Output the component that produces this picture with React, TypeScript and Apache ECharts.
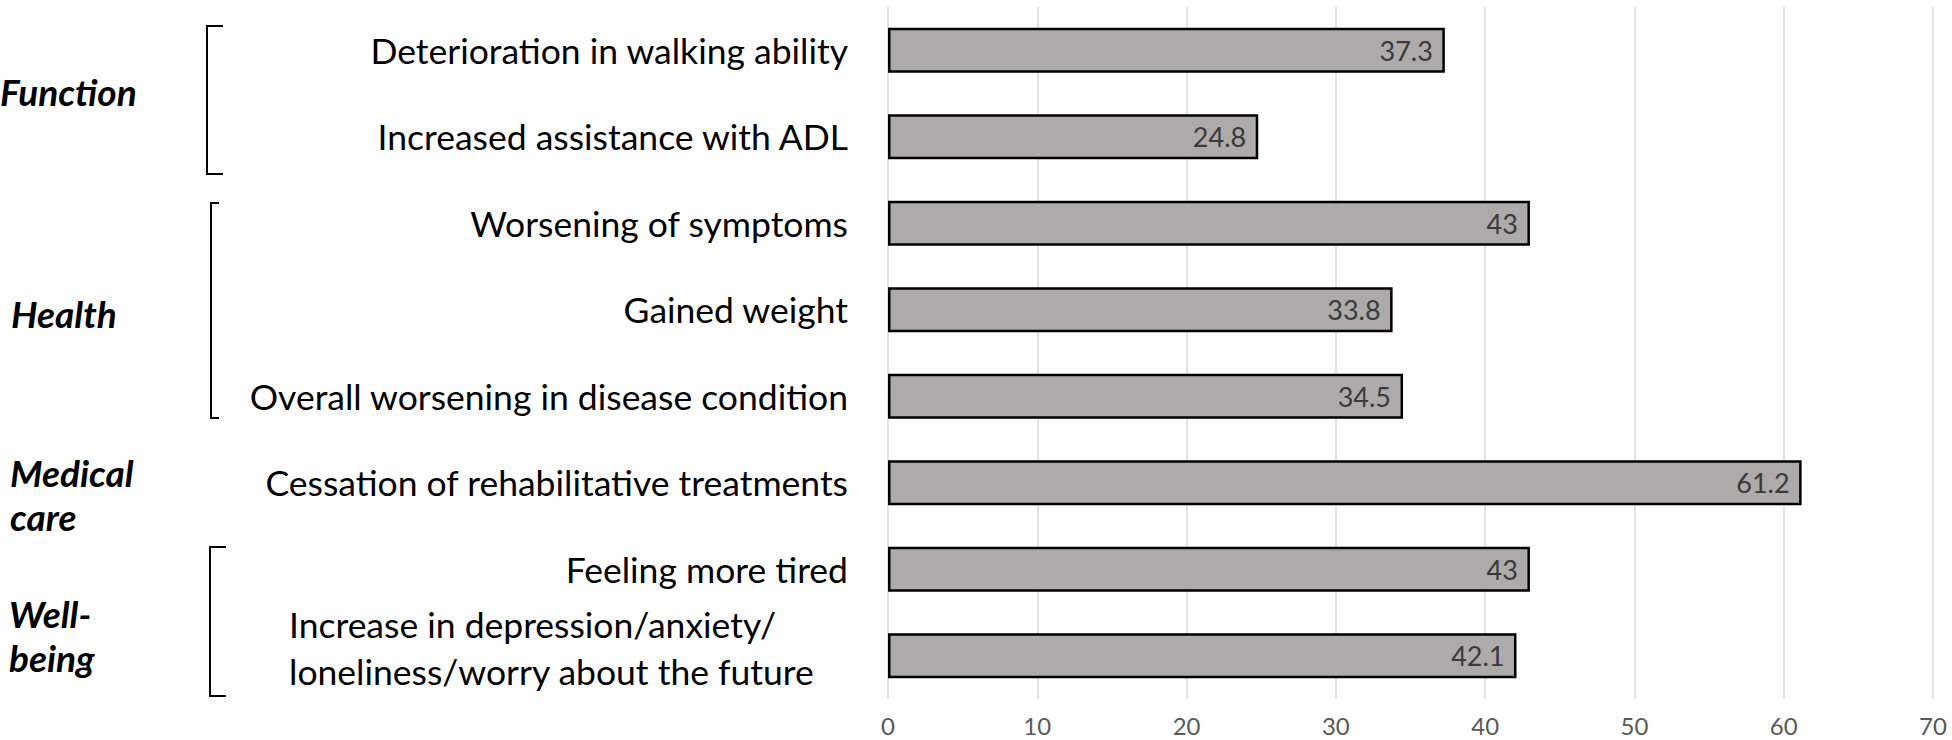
import React, { useEffect, useRef } from "react";
import * as echarts from "echarts";

const categories = [
  "Deterioration in walking ability",
  "Increased assistance with ADL",
  "Worsening of symptoms",
  "Gained weight",
  "Overall worsening in disease condition",
  "Cessation of rehabilitative treatments",
  "Feeling more tired",
  "Increase in depression/anxiety/\nloneliness/worry about the future",
];
const values = [37.3, 24.8, 43, 33.8, 34.5, 61.2, 43, 42.1];
const xTicks = { min: 0, max: 70, interval: 10 };

const groupLabels = [
  { lines: ["Function"], x: 0, y: 91 },
  { lines: ["Health"], x: 11, y: 313 },
  { lines: ["Medical", "care"], x: 10, y: 472 },
  { lines: ["Well-", "being"], x: 9, y: 613 },
];
const brackets = [
  { x: 207, y1: 26, y2: 174, tick: 16 },
  { x: 211, y1: 203, y2: 418, tick: 8 },
  { x: 210, y1: 547, y2: 696, tick: 16 },
];

const FONT = "Lato, 'Noto Sans', sans-serif";

export default function App() {
  const ref = useRef<HTMLDivElement>(null);
  useEffect(() => {
    if (!ref.current) return;
    const chart = echarts.init(ref.current, null, { renderer: "svg" });
    const graphics: any[] = [];
    groupLabels.forEach((g) => {
      g.lines.forEach((line, i) => {
        graphics.push({
          type: "text",
          x: g.x,
          y: g.y + i * 44,
          style: {
            text: line,
            font: `italic bold 37px ${FONT}`,
            fill: "#000",
            align: "left",
            verticalAlign: "middle",
          },
        });
      });
    });
    brackets.forEach((b) => {
      graphics.push({
        type: "polyline",
        shape: {
          points: [
            [b.x + b.tick, b.y1],
            [b.x, b.y1],
            [b.x, b.y2],
            [b.x + b.tick, b.y2],
          ],
        },
        style: { stroke: "#000", lineWidth: 2, fill: null },
      });
    });
    const last = categories[categories.length - 1];
    chart.setOption({
      animation: false,
      backgroundColor: "#fff",
      textStyle: { fontFamily: FONT },
      grid: { left: 888, right: 19, top: 7, bottom: 41, containLabel: false },
      xAxis: {
        type: "value",
        min: xTicks.min,
        max: xTicks.max,
        interval: xTicks.interval,
        axisLine: { show: false },
        axisTick: { show: false },
        splitLine: { show: true, lineStyle: { color: "#D9D9D9", width: 1.5 } },
        axisLabel: {
          color: "#595959",
          fontSize: 24,
          fontFamily: FONT,
          margin: 14,
          verticalAlign: "top",
        },
      },
      yAxis: {
        type: "category",
        inverse: true,
        data: categories,
        axisLine: { show: false },
        axisTick: { show: false },
        splitLine: { show: false },
        axisLabel: {
          color: "#000",
          fontSize: 35.5,
          fontFamily: FONT,
          margin: 40,
          formatter: (v: string) => {
            if (v !== last) return v;
            const parts = v.split("\n");
            return `{m|${parts[0]}}\n{m|${parts[1]}}\n{e| }`;
          },
          rich: {
            m: {
              width: 559,
              align: "left",
              lineHeight: 47,
              fontSize: 35.5,
              fontFamily: FONT,
              color: "#000",
            },
            e: {
              width: 559,
              align: "left",
              lineHeight: 15,
              fontSize: 8,
              fontFamily: FONT,
              color: "#000",
            },
          },
        },
      },
      series: [
        {
          type: "bar",
          data: values,
          barWidth: "52%",
          itemStyle: { color: "#AEAAAA", borderColor: "#000", borderWidth: 2.5 },
          label: {
            show: true,
            position: "insideRight",
            distance: 12,
            color: "#3A3A3A",
            fontSize: 27,
            fontFamily: FONT,
          },
        },
      ],
      graphic: graphics,
    });
    return () => chart.dispose();
  }, []);
  return (
    <div
      ref={ref}
      style={{ position: "absolute", left: 0, top: 0, width: 1952, height: 740 }}
    />
  );
}
